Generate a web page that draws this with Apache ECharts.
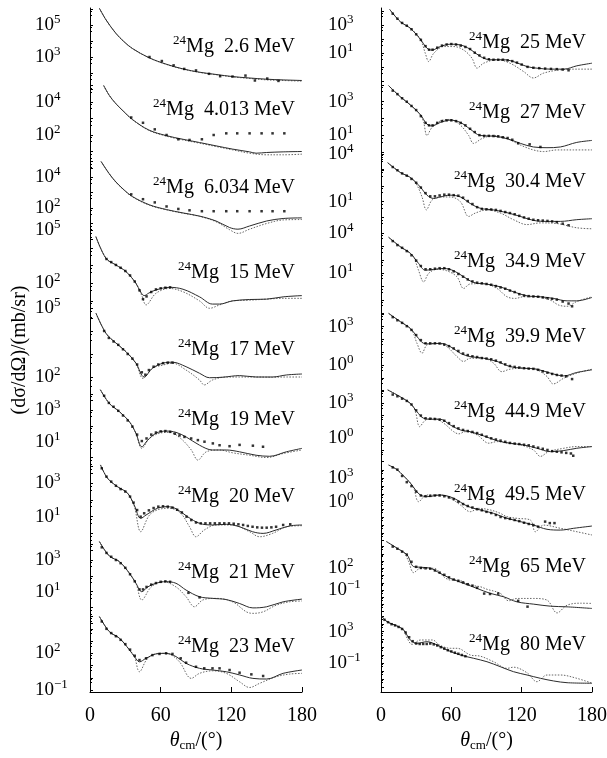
<!DOCTYPE html>
<html>
<head>
<meta charset="utf-8">
<script src="https://cdn.jsdelivr.net/npm/echarts@6/dist/echarts.min.js"></script>
<style>
html, body { margin: 0; padding: 0; background: #fff; }
#chart { width: 607px; height: 758px; }
</style>
</head>
<body>
<div id="chart"></div>
<script>
// energies of the panels (MeV)
var leftEnergies = ['2.6', '4.013', '6.034', '15', '17', '19', '20', '21', '23'];
var rightEnergies = ['25', '27', '30.4', '34.9', '39.9', '44.9', '49.5', '65', '80'];

// exponents of the two tick labels written beside every panel
var leftTickExp = [[5, 3], [4, 2], [4, 2], [5, 2], [5, 2], [3, 1], [3, 1], [3, 1], [2, -1]];
var rightTickExp = [[3, 1], [3, 1], [4, 1], [4, 1], [3, 0], [3, 0], [3, 0], [2, -1], [3, -1]];

// ---- left column: [theta, dsigma/dOmega] ----
var solid26 = [[8,1.1e6],[13.6,2.1e5],[22,3.0e4],[29,8.9e3],[36,3.4e3],[50,910],[65,350],[79,180],[93,112],[107,81],[121,60],[135,49],[150,41],[164,37],[180,34]];
var dotted26 = [[8,1.1e6],[13.6,2.1e5],[22,3.0e4],[29,8.9e3],[36,3.4e3],[50,900],[65,340],[79,175],[93,108],[107,78],[121,57],[135,46],[150,37],[164,34],[180,31]];
var exp26 = [[50.5,1000],[61,560],[71,300],[80,180],[90,145],[101,89],[110.5,63],[121,60],[132,69],[140,34],[150.5,45],[160,32]];

var solid4013 = [[11.6,1.0e5],[16.4,2.5e4],[22,7.9e3],[29,2.5e3],[36,870],[50,200],[65,91],[79,55],[93,35],[107,22],[121,14],[135.5,9.5],[141,7.9],[150,8.7],[164,9.5],[180,10]];
var dotted4013 = [[11.6,1.0e5],[16.4,2.5e4],[22,7.9e3],[29,2.5e3],[36,850],[50,190],[65,85],[79,50],[93,32],[107,20],[121,12.6],[135.5,7.9],[150,6.3],[164,6.3],[180,6.9]];
var exp4013 = [[35,1150],[45,550],[55,220],[65,100],[75,55],[84.5,50],[95,55],[105,100],[115.7,126],[125,126],[135.5,126],[145.7,126],[155,126],[165,126]];

var solid6034 = [[9.4,1.0e5],[16.4,1.6e4],[22,4.8e3],[29,1.45e3],[36,550],[50.5,160],[65,79],[79,48],[93,30],[107,14.5],[118.5,5.5],[125.6,4.3],[135.5,6.9],[150,14.5],[164,21],[180,23]];
var dotted6034 = [[9.4,1.0e5],[16.4,1.6e4],[22,4.6e3],[29,1.4e3],[36,520],[50.5,150],[65,76],[79,46],[93,29],[107,13],[118.5,4.0],[125.6,2.3],[135.5,4.3],[150,10],[164,17],[180,18]];
var exp6034 = [[35,760],[45,370],[55,230],[65,126],[75,87],[84.5,71],[95,62],[105,62],[115.7,62],[125,62],[135.5,62],[145.7,62],[155,62],[165,62]];

var solid15 = [[5,4.5e4],[13.6,2.6e3],[22,1.1e3],[30.6,460],[39,100],[43,32],[46,20],[50,28],[56,42],[67.5,59],[79,46],[93,17],[104,6.6],[110,6.6],[121,10],[135.5,12],[150,12.6],[164,17],[180,20]];
var dotted15 = [[5,4.5e4],[13.6,2.6e3],[22,1.1e3],[30.6,460],[39,100],[44,20],[47.6,5.9],[56,27],[67.5,51],[79,33],[93,10],[101.5,3.8],[110,5.9],[121,10],[135.5,11],[150,12.6],[164,14],[180,14]];
var exp15 = [[14,2.4e3],[18,1.6e3],[22,1.1e3],[26,760],[30,500],[34,280],[38,126],[42,40],[45,12.6],[48,18],[52,32],[56,45],[60,52],[64,56],[68,59]];

var solid17 = [[5.1,5.9e4],[13.6,7.9e3],[22,3.0e3],[30.6,1.26e3],[39,400],[46,100],[53,240],[62,400],[70,440],[81.6,280],[93,145],[101.5,93],[113,98],[127,115],[141,100],[155,100],[167,123],[180,135]];
var dotted17 = [[5.1,5.9e4],[13.6,7.9e3],[22,3.0e3],[30.6,1.26e3],[39,400],[45,87],[53,240],[62,330],[70,400],[81.6,200],[93,74],[97,45],[104,74],[115.6,100],[127,100],[141,100],[155,98],[167,100],[180,100]];
var exp17 = [[12,1.0e4],[16,5.0e3],[20,3.5e3],[24,2.5e3],[28,1.6e3],[32,1.0e3],[36,630],[40,350],[44,160],[47,126],[50,200],[54,280],[58,350],[62,400],[66,420],[70,420]];

var solid19 = [[8.8,1.9e4],[16.4,2.6e3],[25,780],[33.5,180],[39,34],[44,4.8],[49,12.6],[56,34],[64.6,47],[73,39],[81.6,20],[93,6.0],[104,3.0],[115.7,3.0],[127,2.3],[141,1.4],[152.5,1.2],[166.7,2.3],[180,3.8]];
var dotted19 = [[8.8,1.9e4],[16.4,2.6e3],[25,780],[33.5,180],[39,34],[44,3.8],[50.5,16],[59,34],[67.5,39],[77,16],[86,3.0],[91.6,0.69],[98.7,2.3],[110,3.0],[121,2.0],[135.5,1.4],[150,1.0],[164,1.8],[180,3.0]];
var exp19 = [[12,7.9e3],[16,2.8e3],[20,1.6e3],[24,890],[28,450],[32,220],[36,89],[40,28],[44,11],[48,16],[52,28],[56,38],[60,45],[64,47],[68,42],[72,32],[76,25],[80.2,20],[85.9,16],[91.6,12.6],[97.2,10],[104.3,7.8],[110,6.0],[118.5,5.2],[127,6.3],[138.3,5.6],[146.9,4.8]];

var solid20 = [[8.9,1.26e4],[14.9,2.0e3],[23.3,630],[31.8,260],[37.5,50],[43.1,7.9],[47.6,12.6],[57.3,32],[65.8,40],[73,30],[82.8,10],[93,4.0],[104,3.2],[115.7,3.5],[127,2.5],[138,1.26],[147,1.0],[158,1.6],[169.5,2.8],[180,3.2]];
var dotted20 = [[8.9,1.26e4],[14.9,2.0e3],[23.3,630],[31.8,260],[37.5,45],[43.1,1.26],[50.5,12.6],[59,28],[67.5,32],[77,16],[84.5,2.5],[90,0.63],[97,1.6],[107,3.2],[121,3.2],[135.5,1.26],[144,0.63],[155,1.0],[167,2.5],[180,2.9]];
var exp20 = [[10,7.9e3],[14,2.5e3],[18,1.26e3],[22,710],[26,450],[30,320],[34,160],[37,70],[40,25],[43,10],[46,16],[50,24],[54,33],[58,40],[62,42],[66,40],[70,35],[74,26],[78,18],[82,10],[86,6.3],[90,4.5],[94,4.0],[98,4.0],[102,4.0],[106,4.0],[110,4.0],[114,4.0],[118,4.0],[122,3.8],[126,3.5],[130,3.2],[134,2.8],[138,2.5],[142,2.3],[146,2.2],[150,2.2],[154,2.3],[158,2.5],[164,3.2],[170,3.5]];

var solid21 = [[8,1.45e4],[16.4,1.8e3],[25,790],[33.5,145],[39,34],[44,10],[49,20],[56,34],[64.6,43],[73,34],[81.6,12.6],[93,4.8],[104,3.8],[115.7,3.2],[127,1.8],[138.3,0.95],[150,1.12],[164,2.3],[180,3.4]];
var dotted21 = [[8,1.45e4],[16.4,1.8e3],[25,790],[33.5,145],[39,34],[44,3.0],[52,20],[62,43],[73,20],[81.6,4.8],[88.7,1.12],[95.8,3.0],[107,3.8],[121,2.3],[132.7,0.54],[138.3,0.43],[147,0.54],[158,1.4],[169.5,2.3],[180,2.6]];
var exp21 = [[10,6.3e3],[14,2.8e3],[18,1.6e3],[22,1.0e3],[26,630],[30,320],[34,126],[38,45],[42,14],[45,14],[48,20],[52,28],[56,35],[60,42],[64,45],[68,42],[83.6,8.5],[93,4.4]];

var solid23 = [[8,1.0e5],[16.4,5.9e3],[25,1.7e3],[33.5,190],[37.7,54],[42,20],[47.6,39],[56,89],[64.6,100],[73,54],[81.6,15],[93,5.9],[104,4.3],[115.7,3.1],[127,1.7],[138.3,0.89],[150,0.79],[164,2.3],[180,4.3]];
var dotted23 = [[8,1.0e5],[16.4,5.9e3],[25,1.7e3],[33.5,190],[37.7,54],[42,3.1],[49,39],[59,100],[67.5,83],[76,20],[86,0.89],[93,2.3],[104,3.7],[115.7,2.3],[127,0.47],[135.5,0.16],[144,0.35],[158,1.2],[169.5,2.0],[180,2.3]];
var exp23 = [[10,4.0e4],[14,1.0e4],[18,4.5e3],[22,2.5e3],[26,1.26e3],[30,560],[34,200],[38,63],[42,28],[47.6,39],[53,71],[59,89],[64.6,100],[70,89],[77,39],[81.6,17],[90,7.9],[97,5.9],[104,5.9],[110,5.9],[118.5,4.3],[127,2.6],[137,1.9],[147,1.4]];

// ---- right column ----
var solid25 = [[7.4,1.26e4],[16.5,1.7e3],[25,590],[33.6,98],[39.2,23],[43.5,17],[50.6,30],[59,44],[67.7,39],[76,19.5],[84.8,5.9],[93,3.5],[104.7,3.5],[113,2.6],[124.6,1.15],[133,0.89],[144.5,0.76],[156,0.76],[167,1.3],[180,2.0]];
var dotted25 = [[7.4,1.26e4],[16.5,1.7e3],[25,590],[33.6,98],[37.8,10],[40.7,2.6],[45,10],[53.5,30],[62,30],[70.5,17],[77.6,4.5],[82,0.89],[87.6,2.0],[99,3.5],[110,2.0],[121.7,0.51],[130,0.18],[138.8,0.4],[153,0.68],[167,0.76],[180,0.76]];
var exp25 = [[10,6.3e3],[14,2.8e3],[18,1.4e3],[22,890],[26,500],[30,220],[34,89],[38,32],[41,18],[44,18],[48,25],[52,35],[56,42],[60,45],[64,42],[68,35],[72,28],[76,20],[80,11],[84,7.1],[88,4.8],[92,3.8],[96,3.5],[100,3.5],[104,3.5],[108,3.2],[112,2.8],[116,2.2],[120,1.6],[125,1.1],[130,0.95],[135,0.89],[140,0.83],[145,0.79],[150,0.76],[155,0.71],[160,0.63]];

var solid27 = [[6.5,8.9e3],[16.5,1.95e3],[25,650],[33.6,170],[39.2,47],[43.5,37],[50.6,59],[59,81],[67.7,59],[76,24],[84.8,10],[96,9.1],[107.5,6.5],[119,3.4],[130,2.1],[141.6,1.9],[153,2.1],[167,3.9],[180,5.1]];
var dotted27 = [[6.5,8.9e3],[16.5,1.95e3],[25,650],[33.6,170],[36.4,59],[39.2,10],[43.5,30],[50.6,72],[59,89],[67.7,41],[74.8,10],[79,3.4],[86,6.5],[96,10],[107.5,6.5],[119,2.7],[130,1.4],[138.8,1.12],[150,1.4],[164,1.4],[180,1.4]];
var exp27 = [[10,4.5e3],[14,2.8e3],[18,1.6e3],[22,1.0e3],[26,560],[30,320],[34,140],[38,56],[41,40],[44,40],[48,56],[52,71],[56,79],[60,79],[64,71],[68,56],[72,40],[76,25],[80,16],[84,10.5],[88,9.5],[92,9.5],[96,9.3],[100,8.9],[104,7.9],[108,7.1],[112,5.6],[117,3.5],[126.8,3.0],[136,2.1]];

var solid304 = [[5.7,3.0e3],[16.5,720],[25,350],[33.6,85],[39.2,26],[45,16],[50.6,20],[59,26],[67.7,20],[76,7.8],[84.8,3.8],[96,3.0],[107.5,2.0],[119,1.15],[130,0.65],[141.6,0.56],[153,0.56],[167,0.72],[180,0.83]];
var dotted304 = [[5.7,3.0e3],[16.5,720],[25,340],[30,140],[35,20],[38.7,3.0],[43.5,12.6],[50.6,20],[59,20],[67.7,10],[74.8,1.15],[80.5,1.9],[90.4,3.0],[101.8,1.9],[113,0.72],[124.6,0.35],[136,0.45],[150,0.41],[167,0.22],[180,0.19]];
var exp304 = [[10,1.6e3],[14,1.0e3],[18,630],[22,450],[26,280],[30,160],[34,79],[38,35],[42,22],[46,22],[50,25],[54,28],[58,28],[62,26],[66,24],[70,18],[74,11],[78,7.1],[82,4.5],[86,3.5],[90,3.3],[94,3.2],[98,3.0],[102,2.6],[106,2.2],[110,1.9],[114,1.6],[118,1.26],[122,1.0],[126,0.83],[130,0.71],[134,0.66],[138,0.63],[142,0.6],[146,0.56],[150,0.5],[155,0.4],[160,0.32]];

var solid349 = [[6.5,4.8e3],[16.5,950],[25,310],[32,55],[37.8,17],[45,19.5],[53.5,23],[62,15.5],[70.5,5.5],[79,2.1],[90.4,1.55],[101.8,0.98],[113,0.42],[124.6,0.21],[136,0.18],[147,0.135],[158.7,0.089],[167,0.089],[180,0.16]];
var dotted349 = [[6.5,4.8e3],[16.5,950],[25,310],[28,160],[32,17],[36.4,2.3],[40.7,10],[47.8,19.5],[56,15.5],[64.8,5.5],[70.5,0.74],[76,1.6],[87.6,1.7],[99,0.74],[107.5,0.18],[114.6,0.135],[121.7,0.18],[133,0.18],[144.5,0.1],[151.6,0.043],[158.7,0.035],[167,0.079],[180,0.18]];
var exp349 = [[10,2.5e3],[14,1.26e3],[18,790],[22,450],[26,220],[30,89],[34,35],[38,20],[42,20],[46,22],[50,24],[54,24],[58,20],[62,14],[66,8.9],[70,5.6],[74,3.5],[78,2.5],[82,2.0],[86,1.8],[90,1.6],[94,1.4],[98,1.12],[102,0.89],[106,0.71],[110,0.52],[114,0.4],[118,0.28],[122,0.22],[126,0.2],[130,0.19],[134,0.18],[138,0.16],[142,0.14],[146,0.126],[150,0.11],[155,0.079],[160,0.056],[163,0.035]];

var solid399 = [[6.5,1.1e4],[16.5,2.5e3],[25,740],[30.7,170],[36.4,50],[42,45],[50.6,50],[59,28],[67.7,8.3],[76,4.6],[87.6,3.4],[99,1.9],[110,0.76],[121.7,0.56],[133,0.47],[144.5,0.23],[156,0.14],[167,0.26],[180,0.42]];
var dotted399 = [[6.5,1.1e4],[16.5,2.5e3],[26,560],[30.7,50],[35,8.3],[39.2,37],[47.8,50],[56,28],[64.8,4.6],[70.5,1.9],[76,3.4],[87.6,3.4],[96,1.4],[103,0.3],[110,0.47],[121.7,0.56],[133,0.42],[141.6,0.126],[147,0.033],[156,0.093],[167,0.23],[180,0.47]];
var exp399 = [[10,5.6e3],[14,3.2e3],[18,2.0e3],[22,1.1e3],[26,560],[30,220],[34,89],[38,50],[42,50],[46,50],[50,48],[54,40],[58,30],[62,20],[66,12.6],[70,7.9],[74,6.0],[78,4.8],[82,4.2],[86,3.5],[90,3.2],[94,2.8],[98,2.2],[102,1.6],[106,1.12],[110,0.83],[114,0.71],[118,0.63],[122,0.56],[126,0.52],[130,0.5],[134,0.42],[138,0.32],[142,0.25],[146,0.2],[150,0.166],[154,0.15],[158,0.13],[163,0.079]];

var solid449 = [[5.7,1.4e4],[16.5,3.6e3],[25,1.0e3],[30.7,190],[36.4,52],[43.5,43],[50.6,43],[59,14],[67.7,5.2],[76,3.7],[87.6,1.6],[99,0.63],[110,0.38],[121.7,0.27],[133,0.14],[144.5,0.072],[156,0.089],[167,0.14],[180,0.195]];
var dotted449 = [[5.7,1.4e4],[16.5,3.6e3],[26,710],[29.3,200],[33,10],[37.8,35],[45,52],[53.5,19.5],[62,3.7],[66.3,2.4],[72,3.7],[82,1.95],[92,0.38],[99,0.52],[107.5,0.38],[119,0.27],[130,0.1],[136,0.028],[143,0.072],[156,0.14],[167,0.195],[180,0.195]];
var exp449 = [[10,5.6e3],[14,4.0e3],[18,2.5e3],[22,1.6e3],[26,790],[30,250],[34,89],[38,52],[42,48],[46,45],[50,40],[54,32],[58,20],[62,11],[66,7.1],[70,5.2],[74,4.2],[78,3.5],[82,2.8],[86,2.0],[90,1.4],[94,1.0],[98,0.79],[102,0.63],[106,0.5],[110,0.4],[114,0.35],[118,0.32],[122,0.28],[126,0.25],[130,0.2],[134,0.158],[138,0.126],[142,0.1],[146,0.079],[150,0.071],[154,0.063],[158,0.056],[162,0.05],[164,0.032]];

var solid495 = [[6.5,5.0e4],[13.6,1.3e4],[19.3,2.0e3],[25,250],[30,25],[33.6,7.2],[39.2,4.4],[50.6,7.2],[62,2.8],[73.4,0.28],[84.8,0.087],[96,0.032],[107.5,0.0074],[118.9,0.0028],[130.3,0.001],[141.6,2.9e-4],[153,2.3e-4],[164.4,3.9e-4],[180,7.6e-4]];
var dotted495 = [[6.5,5.0e4],[13.6,1.3e4],[19.3,2.0e3],[25,250],[28,50],[32.1,1.0],[39.2,7.2],[50.6,7.2],[59.2,2.8],[67.7,0.38],[76.2,0.052],[83.3,0.14],[93.3,0.087],[101.8,0.032],[107.5,0.012],[116,0.0074],[127.4,0.0045],[131.7,1.4e-4],[138.8,0.001],[153,3.9e-4],[167.2,1.4e-4],[180,5.4e-5]];
var exp495 = [[10,2.5e4],[14,1.3e4],[18,2.0e3],[22,320],[26,100],[30,20],[34,6.3],[38,5.0],[42,5.6],[46,6.3],[50,6.3],[54,5.0],[58,3.5],[62,2.2],[66,1.0],[70,0.5],[74,0.28],[78,0.18],[82,0.11],[86,0.079],[90,0.05],[94,0.035],[98,0.02],[102,0.011],[106,0.0079],[110,0.0063],[114,0.0045],[118,0.0032],[122,0.002],[126,0.0014],[130,0.001],[134,6.3e-4],[140,0.0028],[144,0.0018],[148,0.0018]];

var solid65 = [[4.6,5.0e5],[13.7,6.0e4],[22.2,7.1e3],[27.9,170],[33.6,140],[42.1,100],[50.6,20],[59.2,4.1],[70.5,0.83],[81.9,0.166],[93.3,0.034],[104.7,0.0115],[116,0.0023],[130.3,0.0011],[144.5,5.8e-4],[158.7,4.7e-4],[180,2.8e-4]];
var dotted65 = [[4.6,5.0e5],[13.7,6.0e4],[20,1.26e4],[23.6,830],[27.9,25],[33.6,100],[45,100],[53.5,6.8],[59.2,2.4],[64.8,2.4],[76.2,0.48],[84.8,0.28],[90.4,0.126],[101.8,0.034],[108.9,0.0032],[116,0.0068],[130.3,0.0068],[141.6,0.004],[150.2,6.8e-5],[158.7,7.9e-4],[170,0.0015],[180,0.0014]];
var exp65 = [[10,1.0e5],[14,5.0e4],[18,2.0e4],[22,7.9e3],[26,790],[30,160],[34,112],[38,100],[42,89],[46,50],[50,25],[54,12.6],[58,5.6],[62,2.8],[66,1.8],[70,1.12],[74,0.63],[78,0.4],[82,0.2],[88,0.032],[93,0.028],[100,0.032],[117,0.0032],[125,5.0e-4]];

var solid80 = [[0.9,7.9e4],[5.1,1.9e4],[13.7,5.2e3],[19.3,1.7e3],[25,89],[30.7,34],[39.2,54],[47.8,21],[56.3,4.8],[67.7,1.12],[79,0.43],[90.4,0.158],[101.8,0.037],[113,0.0087],[124.6,0.0033],[136,0.00126],[147.3,5.8e-4],[158.7,3.5e-4],[180,3.0e-4]];
var dotted80 = [[0.9,7.9e4],[5.1,1.9e4],[13.7,5.2e3],[19.3,1.7e3],[22.2,160],[26.5,25],[33.6,89],[44,89],[50,20],[59.2,7.9],[65,7.9],[76.2,1.12],[84.8,0.79],[96,0.158],[107.5,0.023],[113,0.032],[124.6,0.0063],[133,4.7e-4],[141.6,0.0033],[153,0.0033],[167,0.00126],[180,3.0e-4]];
var exp80 = [[3,3.2e4],[6,1.6e4],[9,8.9e3],[12,6.3e3],[15,4.0e3],[18,2.2e3],[21,790],[24,200],[27,63],[30,32],[33,28],[36,28],[39,28],[42,32],[45,25],[48,18],[51,11],[54,7.1],[57,4.5],[60,3.2],[63,2.2],[66,1.6],[69,1.12],[72,0.79]];

// ---- layout: [y of upper tick label, y of lower tick label, min decade, max decade] ----
var leftLayout = [[25,57,1,6],[102,135,0,5],[177,208,0,5],[230.5,283.3,0,5],[308,377,1,5],[410,441.7,-1,4],[483.3,516.7,-1,4],[560,591.7,-1,4],[653.3,690,-1,5]];
var rightLayout = [[25,53.3,-1,4],[101.7,135.5,-1,4],[154.5,201.7,-1,4],[233,273.3,-2,4],[326.7,365,-2,4],[403.3,438.3,-2,4],[478.3,501.7,-5,4],[568.3,590,-4,5],[631.7,663.3,-4,5]];
var leftTitleY = [47,110,188,273,350,420,497,573,647];
var rightTitleY = [43,113,182,262,337,412,495,567,645];

var SERIF = '"Liberation Serif", "Times New Roman", serif';

var columns = [
  { x: 90, w: 212, margin: 55, textRight: 295, titleY: leftTitleY, layout: leftLayout,
    energies: leftEnergies, tickExp: leftTickExp,
    sets: [[solid26,dotted26,exp26],[solid4013,dotted4013,exp4013],[solid6034,dotted6034,exp6034],
           [solid15,dotted15,exp15],[solid17,dotted17,exp17],[solid19,dotted19,exp19],
           [solid20,dotted20,exp20],[solid21,dotted21,exp21],[solid23,dotted23,exp23]] },
  { x: 381, w: 211, margin: 53, textRight: 586, titleY: rightTitleY, layout: rightLayout,
    energies: rightEnergies, tickExp: rightTickExp,
    sets: [[solid25,dotted25,exp25],[solid27,dotted27,exp27],[solid304,dotted304,exp304],
           [solid349,dotted349,exp349],[solid399,dotted399,exp399],[solid449,dotted449,exp449],
           [solid495,dotted495,exp495],[solid65,dotted65,exp65],[solid80,dotted80,exp80]] }
];

var tickRich = {
  n: { fontSize: 19, fontFamily: SERIF, color: '#000' },
  s: { fontSize: 13, fontFamily: SERIF, color: '#000', padding: [0, 0, 11, 0] }
};
var titleRich = {
  m: { fontSize: 20, fontFamily: SERIF, fill: '#000', color: '#000' },
  s: { fontSize: 13, fontFamily: SERIF, fill: '#000', color: '#000', padding: [0, 0, 12, 0] }
};

function powLabel(e) {
  return '{n|10}{s|' + (e < 0 ? '\u2212' + (-e) : e) + '}';
}

var grids = [], xAxes = [], yAxes = [], series = [], graphics = [];

columns.forEach(function (col) {
  col.sets.forEach(function (set, i) {
    var k = grids.length;
    var lay = col.layout[i];
    var shown = col.tickExp[i];
    var ppd = (lay[1] - lay[0]) / (shown[0] - shown[1]);
    grids.push({ left: col.x, width: col.w, top: lay[0] - (lay[3] - shown[0]) * ppd,
                 height: (lay[3] - lay[2]) * ppd, outerBoundsMode: 'none', containLabel: false });
    xAxes.push({ gridIndex: k, type: 'value', min: 0, max: 180, show: false });
    yAxes.push({
      gridIndex: k, type: 'log', logBase: 10,
      min: Math.pow(10, lay[2]), max: Math.pow(10, lay[3]), splitNumber: 20,
      axisLine: { show: false }, splitLine: { show: false },
      axisTick: { show: true, inside: true, length: 3, lineStyle: { color: '#000', width: 1 } },
      minorTick: { show: true, splitNumber: 3, length: 2, lineStyle: { color: '#000', width: 1 } },
      axisLabel: {
        show: true, align: 'left', margin: col.margin, rich: tickRich,
        formatter: function (v) {
          var e = Math.round(Math.log10(v));
          return shown.indexOf(e) >= 0 ? powLabel(e) : '';
        }
      }
    });
    series.push({ type: 'line', xAxisIndex: k, yAxisIndex: k, data: set[0], symbol: 'none',
      smooth: 0.35, clip: false, silent: true, z: 3,
      lineStyle: { color: '#2b2b2b', width: 1 } });
    series.push({ type: 'line', xAxisIndex: k, yAxisIndex: k, data: set[1], symbol: 'none',
      smooth: 0.35, clip: false, silent: true, z: 2,
      lineStyle: { color: '#666', width: 1, type: [1.5, 1.5] } });
    series.push({ type: 'scatter', xAxisIndex: k, yAxisIndex: k, data: set[2], symbol: 'rect',
      symbolSize: 2.5, clip: false, silent: true, z: 4, itemStyle: { color: '#000' } });
    graphics.push({ type: 'text', x: col.textRight, y: col.titleY[i], silent: true,
      style: { text: '{s|24}{m|Mg  ' + col.energies[i] + ' MeV}', rich: titleRich,
               fontSize: 20, fontFamily: SERIF,
               align: 'right', verticalAlign: 'middle', textAlign: 'right', textVerticalAlign: 'middle' } });
  });
});

// frame grids: full-height left axis line and the bottom angle axis
columns.forEach(function (col, c) {
  var k = grids.length;
  grids.push({ left: col.x, width: col.w, top: 8, height: 684, outerBoundsMode: 'none', containLabel: false });
  xAxes.push({
    gridIndex: k, type: 'value', min: 0, max: 180, interval: 60,
    axisLine: { show: true, onZero: false, lineStyle: { color: '#000', width: 1 } },
    axisTick: { show: true, inside: true, length: 5, lineStyle: { color: '#000' } },
    splitLine: { show: false },
    axisLabel: { fontSize: 20, fontFamily: SERIF, color: '#000', margin: 14 },
    name: '{i|\u03b8}{c|cm}/(\u00b0)', nameLocation: 'middle', nameGap: 37,
    nameTextStyle: { fontSize: 20, fontFamily: SERIF, color: '#000',
      rich: { i: { fontSize: 20, fontFamily: SERIF, fontStyle: 'italic', color: '#000' },
              c: { fontSize: 13, fontFamily: SERIF, color: '#000', padding: [10, 0, 0, 0] } } }
  });
  yAxes.push({
    gridIndex: k, type: 'value', min: 0, max: 1,
    axisLine: { show: true, onZero: false, lineStyle: { color: '#000', width: 1 } },
    axisTick: { show: false }, axisLabel: { show: false }, splitLine: { show: false },
    name: c === 0 ? '(d\u03c3/d\u03a9)/(mb/sr)' : '', nameLocation: 'middle', nameGap: 60, nameRotate: 90,
    nameTextStyle: { fontSize: 20, fontFamily: SERIF, color: '#000' }
  });
});

var chart = echarts.init(document.getElementById('chart'), null, { renderer: 'canvas' });
chart.setOption({
  animation: false,
  backgroundColor: '#fff',
  textStyle: { fontFamily: SERIF },
  grid: grids,
  xAxis: xAxes,
  yAxis: yAxes,
  series: series,
  graphic: graphics
});
</script>
</body>
</html>
